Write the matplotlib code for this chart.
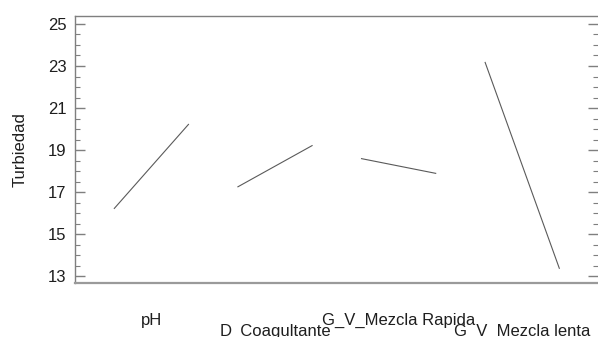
import numpy as np
import matplotlib
matplotlib.use('Agg')
import matplotlib.pyplot as plt
from matplotlib.ticker import MultipleLocator
from matplotlib.transforms import blended_transform_factory

factores = ['pH', 'D_Coagultante', 'G_V_Mezcla Rapida', 'G_V_Mezcla lenta']
bajo = [16.22, 17.25, 18.59, 23.17]
alto = [20.22, 19.21, 17.89, 13.37]
yticks = [13, 15, 17, 19, 21, 23, 25]

plt.rcParams['font.family'] = ['Liberation Sans', 'DejaVu Sans']
plt.rcParams['font.size'] = 12

gris = '#7f7f7f'
texto = '#1e1e1e'

fig = plt.figure(figsize=(5.98, 3.37), dpi=100)
ax = fig.add_axes([75 / 598, 54 / 337, 523 / 598, 267 / 337])

ancho = 0.6
for i in range(len(factores)):
    ax.plot([i, i + ancho], [bajo[i], alto[i]], color='#5a5a5a', linewidth=0.8)

ax.set_xlim(-0.318, 3.913)
ax.set_ylim(12.67, 25.38)
ax.set_yticks(yticks)
ax.yaxis.set_minor_locator(MultipleLocator(0.5))
ax.set_xticks([])

ax.tick_params(axis='y', which='major', direction='in', length=7.2, width=1,
               color=gris, labelcolor=texto, labelsize=12, right=True, pad=6)
ax.tick_params(axis='y', which='minor', direction='in', length=3.6, width=0.8,
               color=gris, right=True)

ax.spines['right'].set_visible(False)
for s in ['left', 'top']:
    ax.spines[s].set_color(gris)
    ax.spines[s].set_linewidth(1)
ax.spines['bottom'].set_color('#9a9a9a')
ax.spines['bottom'].set_linewidth(1.6)

ax.set_ylabel('Turbiedad', color=texto, fontsize=12, labelpad=15)

trans = blended_transform_factory(ax.transData, ax.transAxes)
for i, nombre in enumerate(factores):
    yy = -0.157 if i % 2 == 0 else -0.197
    ax.text(i + ancho / 2, yy, nombre, transform=trans, ha='center',
            va='baseline', color=texto, fontsize=12)

fig.savefig('out.png', dpi=100)
